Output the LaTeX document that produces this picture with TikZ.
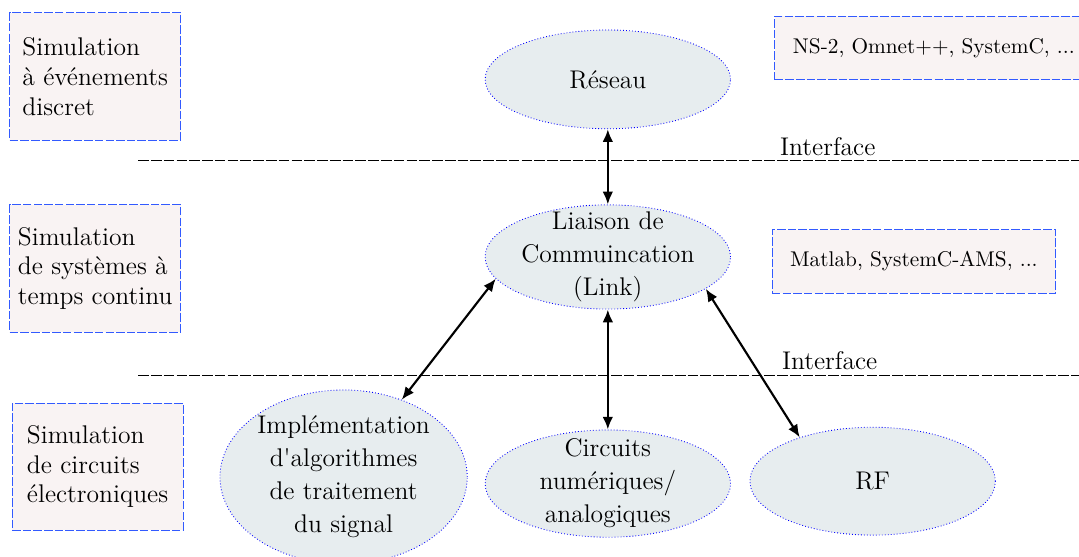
\documentclass[tikz,border=0pt]{standalone}
\usepackage{tikz}
\usepackage{xcolor}
\usetikzlibrary{shapes.geometric,arrows.meta}
\definecolor{cadre}{RGB}{50,90,255}
\definecolor{fondcadre}{RGB}{249,243,243}
\definecolor{fondbulle}{RGB}{231,237,239}
\tikzset{
    niveau-box/.style = {draw=cadre, fill=fondcadre, dash pattern=on 4pt off 1pt, rectangle, align=left, font=\large, minimum width=2.82cm, minimum height=2.1cm},
    outil-box/.style = {draw=cadre, fill=fondcadre, dash pattern=on 4pt off 1pt, rectangle, inner xsep=0.3cm, minimum height=1.05cm},
    bulle/.style = {draw=blue, fill=fondbulle, densely dotted, ellipse, minimum width=4.05cm},
    bulle-text/.style = {align=center, font=\fontsize{12}{15.5}\selectfont},
    interface-line/.style = {dash pattern=on 5pt off 1pt},
    lien/.style = {{Latex[length=6pt,width=5pt]}-{Latex[length=6pt,width=5pt]}, line width=1pt},
}

\begin{document}
\begin{tikzpicture}
\useasboundingbox (0,0) rectangle (17.805,-9.175);
% niveaux de simulation
\node [niveau-box] (discret) at (1.57,-1.26) {Simulation\\à événements\\discret};
\node [niveau-box] (continu) at (1.57,-4.43) {Simulation\\de systèmes à\\temps continu};
\node [niveau-box] (electro) at (1.61,-7.70) {Simulation\\de circuits\\électroniques};
% outils
\node [outil-box] (ns) at (15.41,-0.79) {NS-2, Omnet++, SystemC, ...};
\node [outil-box] (matlab) at (15.08,-4.315) {Matlab, SystemC-AMS, ...};
% interfaces
\coordinate (if1-start) at (2.28,-2.65);
\coordinate (if1-end) at (17.9,-2.65);
\draw [interface-line] (if1-start) -- (if1-end);
\node [font=\large, anchor=base west] (if1) at (12.75,-2.56) {Interface};
\coordinate (if2-start) at (2.28,-6.19);
\coordinate (if2-end) at (17.9,-6.19);
\draw [interface-line] (if2-start) -- (if2-end);
\node [font=\large, anchor=base west] (if2) at (12.78,-6.10) {Interface};
% blocs
\node [bulle, minimum height=1.63cm] (reseau) at (10.03,-1.31) {};
\node [bulle-text] (reseau-text) at (reseau) {Réseau};
\node [bulle, minimum height=1.72cm] (link) at (10.03,-4.24) {};
\node [bulle-text] (link-text) at (link) {Liaison de\\Commuincation\\(Link)};
\node [bulle, minimum width=4.08cm, minimum height=2.87cm] (algo) at (5.67,-7.87) {};
\node [bulle-text] (algo-text) at (algo) {Implémentation\\d\textquotesingle algorithmes\\de traitement\\du signal};
\node [bulle, minimum height=1.77cm] (numana) at (10.03,-7.98) {};
\node [bulle-text] (numana-text) at (numana) {Circuits\\numériques/\\analogiques};
\node [bulle, minimum height=1.78cm] (rf) at (14.40,-7.94) {};
\node [bulle-text] (rf-text) at (rf) {RF};
% liens
\draw [lien] (reseau.south) -- (link.north);
\draw [lien] (link.191) -- (algo.53);
\draw [lien] (link.south) -- (numana.north);
\draw [lien] (link.342) -- (rf.149);
\end{tikzpicture}
\end{document}
